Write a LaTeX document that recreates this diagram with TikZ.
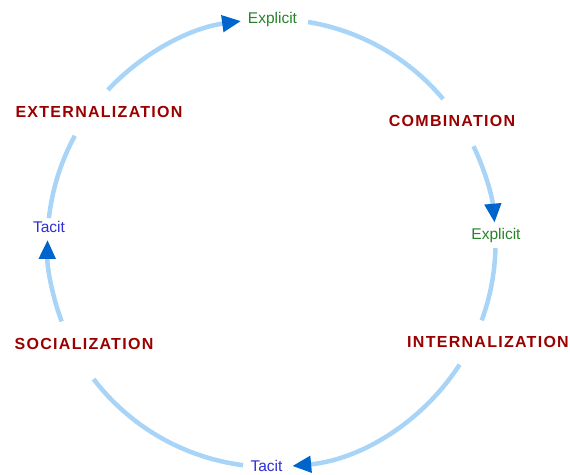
\documentclass[tikz,border=0pt]{standalone}
\usepackage{fontspec}
\setmainfont{Liberation Sans}
\newfontfamily\modefont{Liberation Sans}[LetterSpace=8]
\usetikzlibrary{arrows.meta}
\definecolor{ringblue}{RGB}{168,212,247}
\definecolor{tipblue}{RGB}{0,100,205}
\definecolor{modered}{RGB}{155,0,0}
\definecolor{explgreen}{RGB}{40,130,40}
\definecolor{tacitblue}{RGB}{45,45,215}
\begin{document}
\begin{tikzpicture}[x=1pt,y=1pt,
  ring/.style={draw=ringblue,line width=4.5pt},
  flow/.style={ring,-{Triangle[length=19pt,width=16pt,color=tipblue]}},
  mode/.style={text=modered,inner sep=0pt,font=\modefont\bfseries\fontsize{16}{18}\selectfont},
  expl/.style={text=explgreen,inner sep=0pt,anchor=base,font=\fontsize{15.5}{18}\selectfont},
  tacit/.style={text=tacitblue,inner sep=0pt,anchor=base,font=\fontsize{15.5}{18}\selectfont}]
\useasboundingbox (0,0) rectangle (570,474);
\pgfmathsetmacro\ringr{224}
\coordinate (c) at (271.5,231);

% the four knowledge-conversion modes
\node[mode] (ext) at (99,362) {EXTERNALIZATION};
\node[mode] (com) at (452,353) {COMBINATION};
\node[mode] (int) at (488,132) {INTERNALIZATION};
\node[mode] (soc) at (84,130) {SOCIALIZATION};

% kinds of knowledge between the modes
\node[expl] (e1) at (272.5,450) {Explicit};
\node[expl] (e2) at (496,234) {Explicit};
\node[tacit] (t1) at (266.5,2.5) {Tacit};
\node[tacit] (t2) at (49,241) {Tacit};

% the cycle, running clockwise
\draw[flow] ([shift={(136.9:\ringr)}]c) arc[start angle=136.9,end angle=97.8,radius=\ringr];
\draw[ring] ([shift={(80.6:\ringr)}]c) arc[start angle=80.6,end angle=40.0,radius=\ringr];
\draw[flow] ([shift={(25.6:\ringr)}]c) arc[start angle=25.6,end angle=5.2,radius=\ringr];
\draw[ring] ([shift={(-1.3:\ringr)}]c) arc[start angle=-1.3,end angle=-20.2,radius=\ringr];
\draw[flow] ([shift={(-32.9:\ringr)}]c) arc[start angle=-32.9,end angle=-84.7,radius=\ringr];
\draw[ring] ([shift={(-97.3:\ringr)}]c) arc[start angle=-97.3,end angle=-142.6,radius=\ringr];
\draw[flow] ([shift={(200.5:\ringr)}]c) arc[start angle=200.5,end angle=179.2,radius=\ringr];
\draw[ring] ([shift={(173.6:\ringr)}]c) arc[start angle=173.6,end angle=151.4,radius=\ringr];
\end{tikzpicture}
\end{document}
